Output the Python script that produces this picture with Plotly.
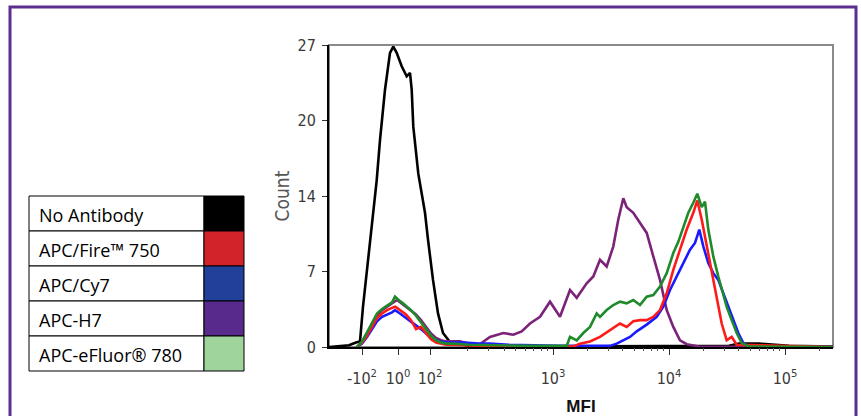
import plotly.graph_objects as go
import numpy as np

# ---------------- data ----------------
# x values are display-channel positions on the biexponential MFI axis
legend_labels = ["No Antibody", "APC/Fire™ 750", "APC/Cy7", "APC-H7", "APC-eFluor® 780"]
legend_colors = ["#000000", "#d2232a", "#21409a", "#582a8c", "#9fd49d"]

tick_labels = ["-10<sup>2</sup>", "10<sup>0</sup>", "10<sup>2</sup>", "10<sup>3</sup>", "10<sup>4</sup>", "10<sup>5</sup>"]
tick_pos = [33, 69, 101, 224, 340, 456]

y_tick_vals = [0, 6.75, 13.5, 20.25, 27]
y_tick_text = ["0", "7", "14", "20", "27"]

black_x = [0, 10, 20, 27, 31, 34, 41, 47.7, 51, 56, 61, 64.3, 67.7, 72.7, 77.7, 81, 82.7, 84.3,
           89.3, 96, 99, 104, 109, 114, 121, 141, 200, 300, 400, 410, 430, 460, 504]
black_y = [0, 0.05, 0.15, 0.4, 0.5, 3.6, 9.6, 14.9, 18.5, 23, 26.3, 26.85, 26.3, 25.1, 24.2, 24.5, 23, 19.7,
           15.5, 12, 9.6, 6, 3, 1.25, 0.45, 0.1, 0.05, 0.05, 0.1, 0.3, 0.3, 0.1, 0.05]

small_x = [28, 33, 38, 43, 48, 53, 58, 63, 66, 68, 71, 74, 77, 82, 87, 92, 97, 102, 107, 112, 117, 125]

green_x = small_x + [140, 160, 200, 237.7, 241, 247.7, 254.3, 261, 267.7, 271, 277.7, 284.3, 291, 297.7, 304.3,
                     311, 317.7, 324.3, 331, 337.7, 344.3, 349.3, 354.3, 359.3, 364.3, 368.3, 372.7, 376, 379.3,
                     384.3, 389.3, 394.3, 397.7, 402.7, 407.7, 412.7, 420, 504]
green_y = [0, 0.5, 1.3, 2.2, 3.0, 3.4, 3.7, 4.0, 4.5, 4.3, 4.1, 3.9, 3.7, 3.3, 2.8, 2.2, 1.6, 1.0, 0.6, 0.4, 0.3, 0.3] + \
          [0.2, 0.15, 0.1, 0.1, 0.9, 0.6, 1.25, 1.8, 3.0, 2.7, 3.3, 3.75, 4.05, 3.9, 4.2,
           3.75, 4.5, 4.65, 5.4, 6.6, 8.4, 9.4, 10.8, 12, 12.9, 13.7, 12.5, 13, 10.5,
           8.1, 6.3, 4.8, 3.6, 2.4, 1.25, 0.35, 0.05, 0]

purple_x = small_x + [131, 140, 150, 161, 174.3, 184.3, 192.7, 201, 211, 221, 231, 241, 247.7, 257.7, 264.3,
                      271, 277.7, 284.3, 289.3, 294.3, 297.7, 304.3, 311, 317.7, 324.3, 331, 337.7, 344.3,
                      351, 357.7, 370, 504]
purple_y = [0, 0.4, 1.1, 2.0, 2.8, 3.3, 3.6, 3.9, 4.1, 4.2, 4.0, 3.8, 3.6, 3.3, 2.9, 2.4, 1.8, 1.2, 0.8, 0.6, 0.5, 0.5] + \
           [0.5, 0.3, 0.2, 0.9, 1.25, 1.1, 1.4, 2.1, 2.7, 4.05, 2.7, 5.1, 4.4, 5.7, 6.3,
            7.8, 7.2, 9.0, 11.4, 13.3, 12.5, 12, 11.1, 10.2, 8.1, 6.0, 3.3, 1.8,
            0.6, 0.25, 0.05, 0]

red_x = small_x + [150, 200, 244.3, 251, 261, 271, 281, 291, 297.7, 304.3, 311, 317.7, 324.3, 331, 337.7,
                   344.3, 351, 357.7, 364.3, 368.3, 372.7, 377.7, 382.7, 387.7, 392.7, 397.7, 402.7, 407.7, 504]
red_y = [0, 0.4, 1.0, 1.8, 2.6, 3.0, 3.3, 3.5, 3.6, 3.5, 3.3, 3.1, 2.9, 2.4, 1.6, 1.8, 1.2, 0.7, 0.4, 0.3, 0.2, 0.2] + \
        [0.1, 0.05, 0.05, 0.3, 0.5, 0.9, 1.5, 2.1, 1.8, 2.3, 2.4, 2.4, 2.7, 3.3, 4.8,
         6.9, 8.7, 10.5, 12, 13.1, 11.4, 9.0, 6.6, 4.2, 2.1, 0.6, 0.9, 0.2, 0]

blue_x = small_x + [135, 150, 160, 180, 200, 230, 260, 281, 287.7, 294.3, 301, 307.7, 317.7, 327.7, 334.3,
                    341, 347.7, 354.3, 361, 366, 370.3, 374.3, 379.3, 384.3, 389.3, 394.3, 399.3, 404.3,
                    409.3, 414.3, 421, 504]
blue_y = [0, 0.3, 0.9, 1.6, 2.3, 2.7, 2.9, 3.1, 3.3, 3.2, 3.0, 2.8, 2.6, 2.3, 2.0, 1.6, 1.2, 0.9, 0.6, 0.5, 0.4, 0.4] + \
         [0.4, 0.3, 0.3, 0.2, 0.15, 0.1, 0.1, 0.1, 0.3, 0.6, 0.9, 1.4, 2.0, 2.7, 3.6,
          5.1, 6.3, 7.5, 8.7, 9.3, 10.5, 9.0, 7.5, 6.6, 6.0, 4.8, 3.6, 2.4,
          1.25, 0.35, 0, 0]

line_colors = {"black": "#000000", "red": "#ff1a1a", "blue": "#1a1aff", "purple": "#7b2379", "green": "#1f8a2a"}

# ---------------- figure ----------------
W, H = 861, 416
px0, px1, py0, py1 = 329, 833, 45, 347


def fx(p):
    return p / W


def fy(p):
    return 1 - p / H


xdom = [fx(px0), fx(px1)]
ydom = [fy(py1), fy(py0)]

fig = go.Figure()
series = [("No Antibody", black_x, black_y, "black"),
          ("APC-H7", purple_x, purple_y, "purple"),
          ("APC/Cy7", blue_x, blue_y, "blue"),
          ("APC/Fire™ 750", red_x, red_y, "red"),
          ("APC-eFluor® 780", green_x, green_y, "green")]
for name, xs, ys, c in series:
    fig.add_trace(go.Scatter(x=xs, y=ys, mode="lines", name=name,
                             line=dict(color=line_colors[c], width=2.6), showlegend=False))

# minor log ticks between decades
minor = []
for a, b in zip(tick_pos[2:-1], tick_pos[3:]):
    for k in range(2, 10):
        minor.append(a + (b - a) * np.log10(k))
for k in range(2, 10):
    v = tick_pos[-1] + (tick_pos[-1] - tick_pos[-2]) * np.log10(k)
    if v < 504:
        minor.append(v)
fig.add_trace(go.Scatter(x=[0], y=[0], xaxis="x2", mode="markers", marker=dict(opacity=0),
                         showlegend=False, hoverinfo="skip"))

# legend table (shapes + annotations)
shapes = []
annotations = []
row_top, row_h = 196, 35
tx0, tx1, cx1 = 29, 204, 244
for i, (lab, col) in enumerate(zip(legend_labels, legend_colors)):
    t = row_top + i * row_h
    shapes.append(dict(type="rect", xref="paper", yref="paper", x0=fx(tx0), x1=fx(tx1),
                       y0=fy(t + row_h), y1=fy(t), line=dict(color="black", width=1), fillcolor="white"))
    shapes.append(dict(type="rect", xref="paper", yref="paper", x0=fx(tx1), x1=fx(cx1),
                       y0=fy(t + row_h), y1=fy(t), line=dict(color="black", width=1), fillcolor=col))
    annotations.append(dict(xref="paper", yref="paper", x=fx(tx0 + 8), y=fy(t + row_h / 2 + 1),
                            xanchor="left", yanchor="middle", text=lab, showarrow=False,
                            font=dict(family="Open Sans", size=18, color="black")))

shapes += [
    dict(type="rect", xref="x domain", yref="y domain", x0=0, x1=1, y0=0, y1=1,
         line=dict(color="#8a8a8a", width=2), layer="below"),
    dict(type="rect", xref="paper", yref="paper", x0=fx(10), x1=fx(856), y0=-0.02, y1=fy(7),
         line=dict(color="#5b2e90", width=3)),
]

tickfont = dict(family="Liberation Sans Narrow, DejaVu Sans Condensed, sans-serif", size=16, color="#3a3a3a")
fig.update_layout(
    width=W, height=H, margin=dict(l=0, r=0, t=0, b=0, autoexpand=False),
    paper_bgcolor="white", plot_bgcolor="white",
    xaxis=dict(domain=xdom, range=[0, 504], tickvals=tick_pos, ticktext=tick_labels, automargin=False,
               showgrid=False, zeroline=False, showline=True, linecolor="black", linewidth=2,
               ticks="outside", ticklen=6, tickcolor="#333", tickfont=tickfont, ticklabelstandoff=10,
               title=dict(text="<b>MFI</b>", font=dict(family="Liberation Sans, Arial", size=17, color="#111"),
                          standoff=13), anchor="y"),
    xaxis2=dict(domain=xdom, range=[0, 504], overlaying="x", anchor="y", side="bottom", automargin=False,
                tickvals=minor, showticklabels=False, ticks="outside", ticklen=3, tickcolor="#555",
                showgrid=False, zeroline=False, showline=False),
    yaxis=dict(domain=ydom, range=[0, 27], tickvals=y_tick_vals, ticktext=y_tick_text, automargin=False,
               showgrid=False, zeroline=False, showline=True, linecolor="black", linewidth=2,
               ticks="outside", ticklen=5, tickcolor="#333", tickfont=tickfont, ticklabelstandoff=3,
               title=dict(text="Count", font=dict(family="Liberation Sans Narrow, DejaVu Sans Condensed, sans-serif",
                                                  size=19, color="#555"), standoff=3)),
    shapes=shapes,
    annotations=annotations,
)

fig.write_html("out.html", config={"displayModeBar": False},
               post_script="document.body.style.margin='0';document.body.style.overflow='hidden';")
